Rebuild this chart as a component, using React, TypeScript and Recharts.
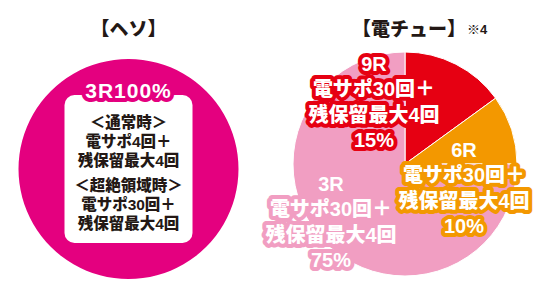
import React from "react";
import { PieChart, Pie, Cell } from "recharts";

// ヘソ
const hesoNames = ["3R"];
const hesoValues = [100];
const hesoLines = [
  "＜通常時＞",
  "電サポ4回＋",
  "残保留最大4回",
  "＜超絶領域時＞",
  "電サポ30回＋",
  "残保留最大4回",
];

// 電チュー
const denchuNames = ["9R", "6R", "3R"];
const denchuValues = [15, 10, 75];
const denchuLines = ["電サポ30回＋", "残保留最大4回"];

const MAGENTA = "#e4007f";
const denchuColors = ["#e60012", "#f39800", "#f19ec2"];
const FONT = "'Liberation Sans', 'Noto Sans CJK JP', sans-serif";

const hesoData = hesoNames.map((name, i) => ({ name, value: hesoValues[i] }));
const denchuData = denchuNames.map((name, i) => ({ name, value: denchuValues[i] }));

// label block centre, relative to the pie centre
const labelShift = [
  [-31, -62],
  [59, 24],
  [-74, 58],
];

const outlined = (color: string, w: number) => ({
  fill: "#fff",
  stroke: color,
  strokeWidth: w,
  strokeLinejoin: "round" as const,
  style: { paintOrder: "stroke" as const },
});

const HesoLabel = (props: any) => {
  const { cx, cy, payload } = props;
  const lineY = [-47, -28, -9, 16, 35, 54];
  return (
    <g fontFamily={FONT} fontWeight={900} textAnchor="middle">
      <rect x={cx - 64} y={cy - 74} width={128} height={148} rx={10} fill="#fff" />
      <text
        x={cx}
        y={cy - 79}
        dominantBaseline="central"
        fontSize={21}
        letterSpacing={1}
        {...outlined(MAGENTA, 8)}
      >
        {`${payload.name}${payload.value}%`}
      </text>
      {hesoLines.map((t, i) => (
        <text
          key={i}
          x={cx}
          y={cy + lineY[i]}
          dominantBaseline="central"
          fontSize={15.5}
          fill="#231815"
        >
          {t}
        </text>
      ))}
    </g>
  );
};

const DenchuLabel = (props: any) => {
  const { cx, cy, index, payload } = props;
  const [dx, dy] = labelShift[index];
  const x = cx + dx;
  const y = cy + dy;
  const rows = [payload.name, ...denchuLines, `${payload.value}%`];
  return (
    <g fontFamily={FONT} fontWeight={900} textAnchor="middle">
      {rows.map((t, i) => (
        <text
          key={i}
          x={x}
          y={y + (i - 1.5) * 25.5}
          dominantBaseline="central"
          fontSize={20}
          {...outlined(denchuColors[index], 8)}
        >
          {t}
        </text>
      ))}
    </g>
  );
};

const titleStyle: React.CSSProperties = {
  position: "absolute",
  top: 16,
  fontFamily: FONT,
  fontWeight: 900,
  fontSize: 19,
  color: "#231815",
  lineHeight: "28px",
  whiteSpace: "nowrap",
};

export default function App() {
  return (
    <div style={{ position: "fixed", left: 0, top: 0, width: 548, height: 292, background: "#fff" }}>
      <div style={{ ...titleStyle, left: 0, width: 257, textAlign: "center" }}>【ヘソ】</div>
      <div style={{ ...titleStyle, left: 352 }}>【電チュー】</div>
      <div style={{ ...titleStyle, left: 467, top: 22, fontSize: 13, lineHeight: "16px" }}>※4</div>
      <PieChart width={548} height={292} margin={{ top: 0, right: 0, bottom: 0, left: 0 }}>
        <Pie
          data={hesoData}
          dataKey="value"
          nameKey="name"
          cx={128.5}
          cy={169}
          outerRadius={110}
          startAngle={90}
          endAngle={-270}
          stroke="none"
          label={HesoLabel}
          labelLine={false}
          isAnimationActive={false}
        >
          {hesoData.map((d) => (
            <Cell key={d.name} fill={MAGENTA} />
          ))}
        </Pie>
        <Pie
          data={denchuData}
          dataKey="value"
          nameKey="name"
          cx={405}
          cy={164}
          outerRadius={112}
          startAngle={90}
          endAngle={-270}
          stroke="#fff"
          strokeWidth={1}
          label={DenchuLabel}
          labelLine={false}
          isAnimationActive={false}
        >
          {denchuData.map((d, i) => (
            <Cell key={d.name} fill={denchuColors[i]} />
          ))}
        </Pie>
      </PieChart>
    </div>
  );
}
